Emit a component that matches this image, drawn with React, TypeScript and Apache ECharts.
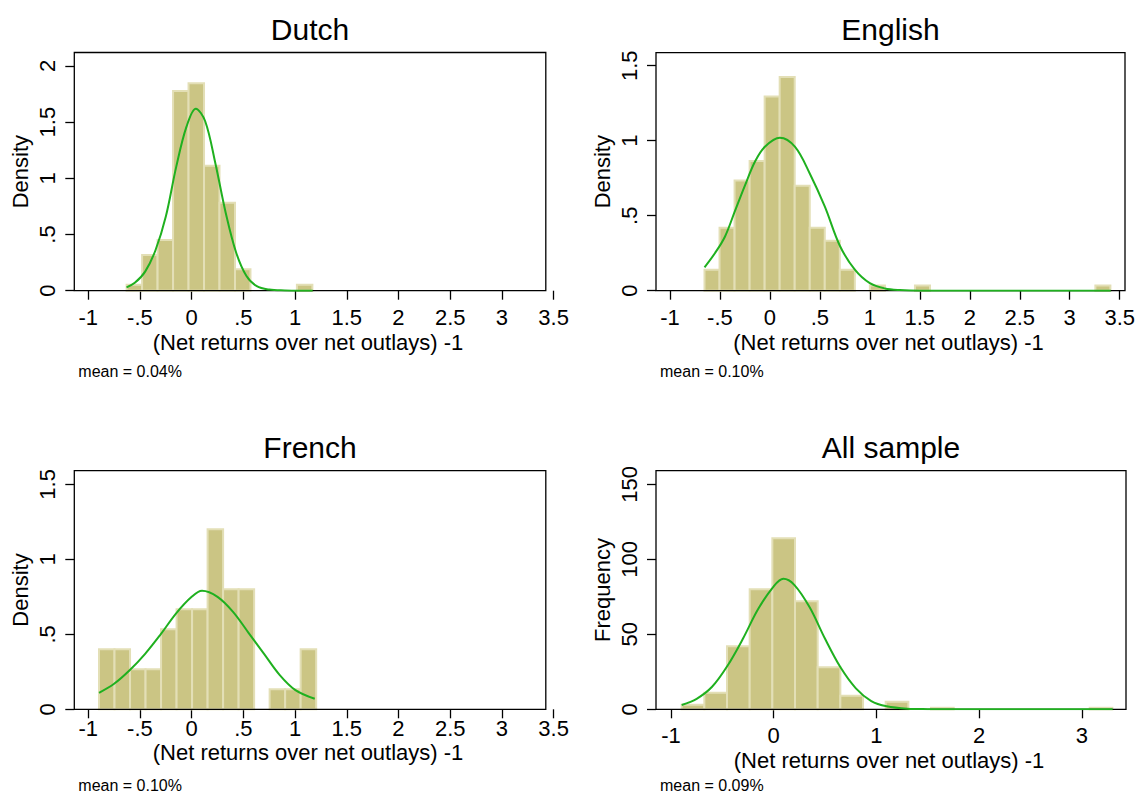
import React, { useEffect, useRef } from 'react';
import * as echarts from 'echarts';

// ---------- data ----------
const dutchBinStart = -0.629;
const dutchBinWidth = 0.1497;
const dutchDensity = [0.053, 0.318, 0.451, 1.777, 1.846, 1.113, 0.783, 0.19, 0, 0, 0, 0.053];
const dutchCurveX = [-0.63, -0.55, -0.45, -0.35, -0.25, -0.15, -0.05, 0.04, 0.13, 0.23, 0.33, 0.43, 0.53, 0.63, 0.75, 0.9, 1.05, 1.17];
const dutchCurveY = [0.03, 0.07, 0.17, 0.36, 0.66, 1.1, 1.46, 1.62, 1.51, 1.13, 0.69, 0.34, 0.13, 0.04, 0.01, 0.002, 0, 0];

const englishBinStart = -0.654;
const englishBinWidth = 0.1504;
const englishDensity = [0.14, 0.42, 0.735, 0.865, 1.295, 1.425, 0.7, 0.42, 0.333, 0.14, 0, 0.035, 0, 0, 0.035, 0, 0, 0, 0, 0, 0, 0, 0, 0, 0, 0, 0.035];
const englishCurveX = [-0.654, -0.55, -0.45, -0.35, -0.25, -0.15, -0.05, 0.1, 0.25, 0.4, 0.55, 0.7, 0.85, 1.0, 1.15, 1.3, 1.5, 1.8, 2.5, 3.41];
const englishCurveY = [0.156, 0.25, 0.36, 0.53, 0.7, 0.86, 0.96, 1.02, 0.96, 0.78, 0.56, 0.3, 0.14, 0.05, 0.015, 0.004, 0, 0, 0, 0];

const frenchBinStart = -0.896;
const frenchBinWidth = 0.15;
const frenchDensity = [0.4, 0.4, 0.267, 0.267, 0.533, 0.667, 0.667, 1.2, 0.8, 0.8, 0, 0.133, 0.133, 0.4];
const frenchCurveX = [-0.896, -0.75, -0.6, -0.45, -0.3, -0.15, 0.0, 0.1, 0.25, 0.4, 0.55, 0.7, 0.85, 1.0, 1.19];
const frenchCurveY = [0.11, 0.17, 0.26, 0.37, 0.5, 0.64, 0.75, 0.79, 0.75, 0.65, 0.51, 0.37, 0.23, 0.13, 0.07];

const allBinStart = -0.896;
const allBinWidth = 0.2207;
const allFrequency = [3, 11, 42, 80, 114, 72, 28, 9, 0, 5, 0, 1, 0, 0, 0, 0, 0, 0, 1];
const allCurveX = [-0.896, -0.75, -0.6, -0.45, -0.3, -0.15, 0.0, 0.094, 0.2, 0.35, 0.5, 0.65, 0.8, 0.95, 1.1, 1.3, 1.5, 1.8, 2.5, 3.3];
const allCurveY = [2.9, 7, 15, 29, 47, 67, 82, 87, 83, 68, 47, 28, 14, 5.5, 2, 0.4, 0.1, 0, 0, 0];

const xTicksHalf = [-1, -0.5, 0, 0.5, 1, 1.5, 2, 2.5, 3, 3.5];
const xTicksUnit = [-1, 0, 1, 2, 3];
const yTicksDutch = [0, 0.5, 1, 1.5, 2];
const yTicksDensity = [0, 0.5, 1, 1.5];
const yTicksFreq = [0, 50, 100, 150];

const panelTitles = ['Dutch', 'English', 'French', 'All sample'];
const yTitles = ['Density', 'Density', 'Density', 'Frequency'];
const xTitle = '(Net returns over net outlays) -1';
const meanNotes = ['mean = 0.04%', 'mean = 0.10%', 'mean = 0.10%', 'mean = 0.09%'];

// ---------- layout ----------
const FONT = '"Liberation Sans", Arial, Helvetica, sans-serif';
const BAR_FILL = '#CBC584';
const BAR_EDGE = '#E3DFB6';
const CURVE = '#1FB01F';

interface Panel {
  left: number; top: number; height: number;
  frameW: number; dataW: number;
  xMin: number; xMax: number; yMax: number;
  xLabMargin: number; xTitleY: number; meanY: number;
}

const layout: Panel[] = [
  { left: 74.3, top: 52.5, height: 238.2, frameW: 471.5, dataW: 479.3, xMin: -1.135, xMax: 3.5, yMax: 2.12, xLabMargin: 16, xTitleY: 342, meanY: 371 },
  { left: 656, top: 52.7, height: 238, frameW: 469, dataW: 469, xMin: -1.1394, xMax: 3.532, yMax: 1.587, xLabMargin: 16, xTitleY: 342, meanY: 371 },
  { left: 74.3, top: 470.7, height: 238.6, frameW: 471.5, dataW: 479.3, xMin: -1.135, xMax: 3.5, yMax: 1.591, xLabMargin: 8, xTitleY: 752, meanY: 785 },
  { left: 656, top: 470.7, height: 238.6, frameW: 470, dataW: 470, xMin: -1.146, xMax: 3.43, yMax: 159.1, xLabMargin: 15, xTitleY: 760, meanY: 785 },
];

const fmt = (v: number) => String(v).replace(/^(-?)0\./, '$1.');

function bins(start: number, width: number, h: number[]) {
  return h.map((v, k) => [start + k * width, start + (k + 1) * width, v]);
}
function curve(xs: number[], ys: number[]) {
  return xs.map((x, k) => [x, ys[k]]);
}

const panelData = [
  { bars: bins(dutchBinStart, dutchBinWidth, dutchDensity), line: curve(dutchCurveX, dutchCurveY), xTicks: xTicksHalf, yTicks: yTicksDutch },
  { bars: bins(englishBinStart, englishBinWidth, englishDensity), line: curve(englishCurveX, englishCurveY), xTicks: xTicksHalf, yTicks: yTicksDensity },
  { bars: bins(frenchBinStart, frenchBinWidth, frenchDensity), line: curve(frenchCurveX, frenchCurveY), xTicks: xTicksHalf, yTicks: yTicksDensity },
  { bars: bins(allBinStart, allBinWidth, allFrequency), line: curve(allCurveX, allCurveY), xTicks: xTicksUnit, yTicks: yTicksFreq },
];

function buildOption() {
  const grid: any[] = [];
  const xAxis: any[] = [];
  const yAxis: any[] = [];
  const series: any[] = [];
  const graphic: any[] = [];

  layout.forEach((p, i) => {
    const d = panelData[i];
    const gi = i * 2;
    grid.push({ left: p.left, top: p.top, width: p.dataW, height: p.height, show: false, containLabel: false });
    grid.push({ left: p.left, top: p.top, width: p.frameW, height: p.height, show: true, borderColor: '#000', borderWidth: 1.3, backgroundColor: 'transparent', z: 3 });

    xAxis.push({
      type: 'value', gridIndex: gi, min: p.xMin, max: p.xMax, position: 'bottom',
      axisLine: { show: false, onZero: false },
      axisTick: { show: true, length: 9, customValues: d.xTicks, lineStyle: { color: '#000', width: 1.3 } },
      axisLabel: { show: true, customValues: d.xTicks, margin: p.xLabMargin, formatter: fmt, fontSize: 22, color: '#000', fontFamily: FONT, showMinLabel: true, showMaxLabel: true },
      splitLine: { show: false },
    });
    yAxis.push({
      type: 'value', gridIndex: gi, min: 0, max: p.yMax, position: 'left',
      axisLine: { show: false, onZero: false },
      axisTick: { show: true, length: 9, customValues: d.yTicks, lineStyle: { color: '#000', width: 1.3 } },
      axisLabel: { show: true, customValues: d.yTicks, rotate: 90, margin: 16, formatter: fmt, fontSize: 22, color: '#000', fontFamily: FONT, showMinLabel: true, showMaxLabel: true },
      splitLine: { show: false },
    });
    xAxis.push({ type: 'value', gridIndex: gi + 1, show: false, min: 0, max: 1 });
    yAxis.push({ type: 'value', gridIndex: gi + 1, show: false, min: 0, max: 1 });

    series.push({
      type: 'custom', xAxisIndex: gi, yAxisIndex: gi, z: 2, silent: true,
      data: d.bars,
      encode: { x: [0, 1], y: 2 },
      renderItem: (params: any, api: any) => {
        const x0 = api.value(0), x1 = api.value(1), h = api.value(2);
        if (!h) return { type: 'group', children: [] };
        const a = api.coord([x0, h]);
        const b = api.coord([x1, 0]);
        return {
          type: 'rect',
          shape: { x: a[0], y: a[1], width: b[0] - a[0], height: b[1] - a[1] },
          style: { fill: BAR_FILL, stroke: BAR_EDGE, lineWidth: 2 },
        };
      },
    });
    series.push({
      type: 'line', xAxisIndex: gi, yAxisIndex: gi, z: 4, silent: true,
      data: d.line, smooth: 0.35, showSymbol: false,
      lineStyle: { color: CURVE, width: 2 },
    });

    const cx = p.left + p.frameW / 2;
    graphic.push({ type: 'text', x: cx, y: p.top - 23, style: { text: panelTitles[i], fontSize: 30, fontFamily: FONT, fill: '#000', textAlign: 'center', textVerticalAlign: 'middle' } });
    graphic.push({ type: 'text', x: p.left - 54, y: p.top + p.height / 2, rotation: Math.PI / 2, style: { text: yTitles[i], fontSize: 22, fontFamily: FONT, fill: '#000', textAlign: 'center', textVerticalAlign: 'middle' } });
    graphic.push({ type: 'text', x: cx - 2, y: p.xTitleY, style: { text: xTitle, fontSize: 22, fontFamily: FONT, fill: '#000', textAlign: 'center', textVerticalAlign: 'middle' } });
    graphic.push({ type: 'text', x: p.left + 4, y: p.meanY, style: { text: meanNotes[i], fontSize: 16, fontFamily: FONT, fill: '#000', textAlign: 'left', textVerticalAlign: 'middle' } });
  });

  return {
    animation: false,
    backgroundColor: '#fff',
    textStyle: { fontFamily: FONT },
    grid, xAxis, yAxis, series, graphic,
  };
}

export default function App() {
  const ref = useRef<HTMLDivElement>(null);
  useEffect(() => {
    if (!ref.current) return;
    const chart = echarts.init(ref.current, undefined, { renderer: 'svg' });
    chart.setOption(buildOption() as any);
    return () => chart.dispose();
  }, []);
  return <div ref={ref} style={{ position: 'fixed', left: 0, top: 0, width: 1138, height: 794, background: '#fff' }} />;
}
